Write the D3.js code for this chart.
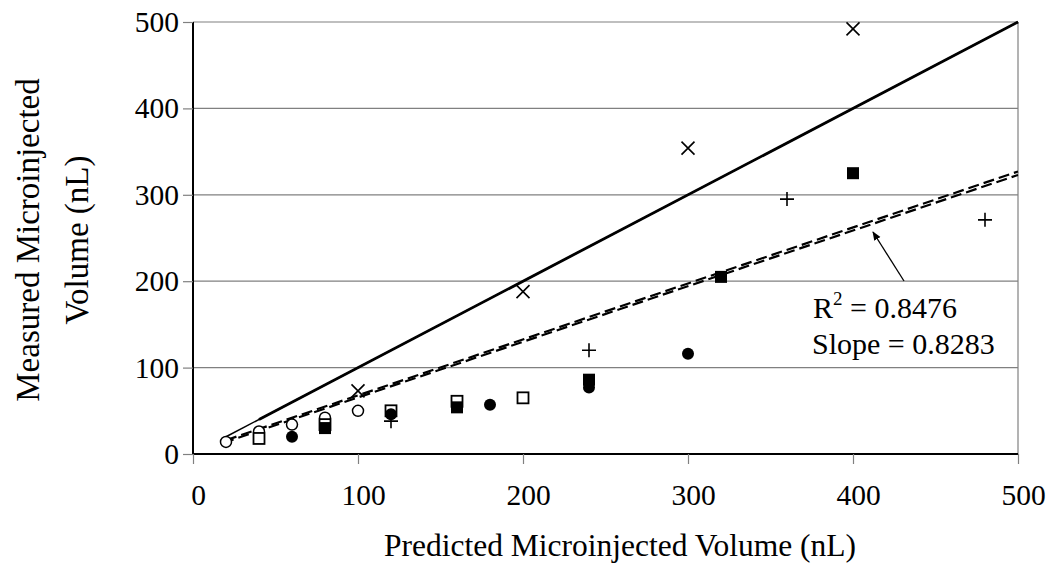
<!DOCTYPE html>
<html>
<head>
<meta charset="utf-8">
<script src="https://cdn.jsdelivr.net/npm/d3@7"></script>
<style>
  body { margin: 0; background: #fff; }
  svg { display: block; font-family: "Liberation Serif", "Times New Roman", serif; }
</style>
</head>
<body>
<div id="chart"></div>
<script>
// 1: DATA
const xTicks = [0, 100, 200, 300, 400, 500];
const yTicks = [0, 100, 200, 300, 400, 500];

const openCircleX = [20, 40, 60, 80, 100];
const openCircleY = [14, 26, 34, 42, 50];

const openSquareX = [40, 80, 120, 160, 200];
const openSquareY = [18, 34, 50, 61, 65];

const filledCircleX = [60, 120, 180, 240, 300];
const filledCircleY = [20, 46, 57, 77, 116];

const filledSquareX = [80, 160, 240, 320, 400];
const filledSquareY = [30, 54, 86, 205, 325];

const plusX = [120, 240, 360, 480];
const plusY = [38, 120, 295, 271];

const crossX = [100, 200, 300, 400];
const crossY = [73, 188, 354, 492];

// unity line (y = x) and the two fitted lines
const unityX = [20, 500];
const unityY = [20, 500];
const fitAX = [20, 500];
const fitAY = [16, 327];
const fitBX = [20, 500];
const fitBY = [14, 323];

const noteLines = ["R", "Slope = 0.8283"];

// 2: SVG
const W = 1047, H = 580;
const svg = d3.select("#chart").append("svg")
    .attr("width", W)
    .attr("height", H);

const x = d3.scaleLinear().domain([0, 500]).range([193, 1018]);
const y = d3.scaleLinear().domain([0, 500]).range([454, 22]);

const zip = (a, b) => a.map((v, i) => [v, b[i]]);

// gridlines
svg.append("g")
    .selectAll("line")
    .data(yTicks.filter(d => d > 0))
    .join("line")
    .attr("x1", x(0)).attr("x2", x(500))
    .attr("y1", d => y(d)).attr("y2", d => y(d))
    .attr("stroke", "#808080")
    .attr("stroke-width", 1.2);

// right border of plot area
svg.append("line")
    .attr("x1", x(500)).attr("x2", x(500))
    .attr("y1", y(0)).attr("y2", y(500))
    .attr("stroke", "#808080")
    .attr("stroke-width", 1.2);

// 3: AXES
const yAxis = svg.append("g")
    .attr("transform", `translate(${x(0)},0)`)
    .call(d3.axisLeft(y).tickValues(yTicks).tickSize(10).tickPadding(4));

const xAxis = svg.append("g")
    .attr("transform", `translate(0,${y(0)})`)
    .call(d3.axisBottom(x).tickValues(xTicks).tickSize(10).tickPadding(20));

[xAxis, yAxis].forEach(ax => {
    ax.select(".domain").attr("stroke", "#000").attr("stroke-width", 2);
    ax.selectAll(".tick line").attr("stroke", "#808080").attr("stroke-width", 1.2);
    ax.selectAll(".tick text")
        .attr("fill", "#000")
        .style("font-family", "Liberation Serif")
        .style("font-size", "29.5px");
});
// labels under the x ticks sit a little to the right, as in the original
xAxis.selectAll(".tick text").attr("dx", 5);
yAxis.select(".domain").attr("d", `M0,${y(0)}V${y(500)}`);
xAxis.select(".domain").attr("d", `M${x(0)},0H${x(500)}`);

// 4: LINES
const line = d3.line().x(d => x(d[0])).y(d => y(d[1]));

svg.append("path")
    .datum(zip(unityX, unityY))
    .attr("fill", "none")
    .attr("stroke", "#000")
    .attr("stroke-width", 1.5)
    .attr("d", line);

svg.append("path")
    .datum(zip(unityX.map(v => Math.max(v, 40)), unityY.map(v => Math.max(v, 40))))
    .attr("fill", "none")
    .attr("stroke", "#000")
    .attr("stroke-width", 2.8)
    .attr("d", line);

[[fitAX, fitAY], [fitBX, fitBY]].forEach(([fx, fy], i) => {
    svg.append("path")
        .datum(zip(fx, fy))
        .attr("fill", "none")
        .attr("stroke", "#000")
        .attr("stroke-width", 2.2)
        .attr("stroke-dasharray", "11,5")
        .attr("stroke-dashoffset", i * 3)
        .attr("d", line);
});

// 5: MARKERS
const g = svg.append("g");

g.selectAll(".oc")
    .data(zip(openCircleX, openCircleY))
    .join("circle")
    .attr("cx", d => x(d[0])).attr("cy", d => y(d[1]))
    .attr("r", 5.5)
    .attr("fill", "#fff").attr("stroke", "#000").attr("stroke-width", 1.5);

g.selectAll(".os")
    .data(zip(openSquareX, openSquareY))
    .join("rect")
    .attr("x", d => x(d[0]) - 5.5).attr("y", d => y(d[1]) - 5.5)
    .attr("width", 11).attr("height", 11)
    .attr("fill", "#fff").attr("stroke", "#000").attr("stroke-width", 1.8);

g.selectAll(".fc")
    .data(zip(filledCircleX, filledCircleY))
    .join("circle")
    .attr("cx", d => x(d[0])).attr("cy", d => y(d[1]))
    .attr("r", 6)
    .attr("fill", "#000");

g.selectAll(".fs")
    .data(zip(filledSquareX, filledSquareY))
    .join("rect")
    .attr("x", d => x(d[0]) - 6).attr("y", d => y(d[1]) - 6)
    .attr("width", 12).attr("height", 12)
    .attr("fill", "#000");

g.selectAll(".pl")
    .data(zip(plusX, plusY))
    .join("path")
    .attr("d", d => {
        const cx = x(d[0]), cy = y(d[1]);
        return `M${cx - 7},${cy}H${cx + 7}M${cx},${cy - 7}V${cy + 7}`;
    })
    .attr("stroke", "#000").attr("stroke-width", 1.6);

g.selectAll(".cr")
    .data(zip(crossX, crossY))
    .join("path")
    .attr("d", d => {
        const cx = x(d[0]), cy = y(d[1]);
        return `M${cx - 6.5},${cy - 6.5}L${cx + 6.5},${cy + 6.5}M${cx + 6.5},${cy - 6.5}L${cx - 6.5},${cy + 6.5}`;
    })
    .attr("stroke", "#000").attr("stroke-width", 1.6);

// 6: ANNOTATION
svg.append("defs").append("marker")
    .attr("id", "arr")
    .attr("viewBox", "0 0 10 10")
    .attr("refX", 9).attr("refY", 5)
    .attr("markerWidth", 7).attr("markerHeight", 7)
    .attr("orient", "auto")
    .append("path").attr("d", "M0,1L10,5L0,9Z").attr("fill", "#000");

svg.append("line")
    .attr("x1", 904).attr("y1", 281)
    .attr("x2", 873).attr("y2", 232)
    .attr("stroke", "#000").attr("stroke-width", 1.3)
    .attr("marker-end", "url(#arr)");

const r2 = svg.append("text")
    .attr("x", 813).attr("y", 318)
    .style("font-size", "30px");
r2.append("tspan").text(noteLines[0]);
r2.append("tspan").attr("dy", -13).style("font-size", "19px").text("2");
r2.append("tspan").attr("dy", 13).text(" = 0.8476");

svg.append("text")
    .attr("x", 812).attr("y", 354)
    .style("font-size", "30px")
    .text(noteLines[1]);

// 7: AXIS TITLES
svg.append("text")
    .attr("text-anchor", "middle")
    .attr("x", 620).attr("y", 556)
    .style("font-size", "31.5px")
    .text("Predicted Microinjected Volume (nL)");

const yt = svg.append("text")
    .attr("text-anchor", "middle")
    .attr("transform", "translate(0,240) rotate(-90)")
    .style("font-size", "33px");
yt.append("tspan").attr("x", 0).attr("y", 39).text("Measured Microinjected");
yt.append("tspan").attr("x", 0).attr("y", 88).text("Volume (nL)");
</script>
</body>
</html>
